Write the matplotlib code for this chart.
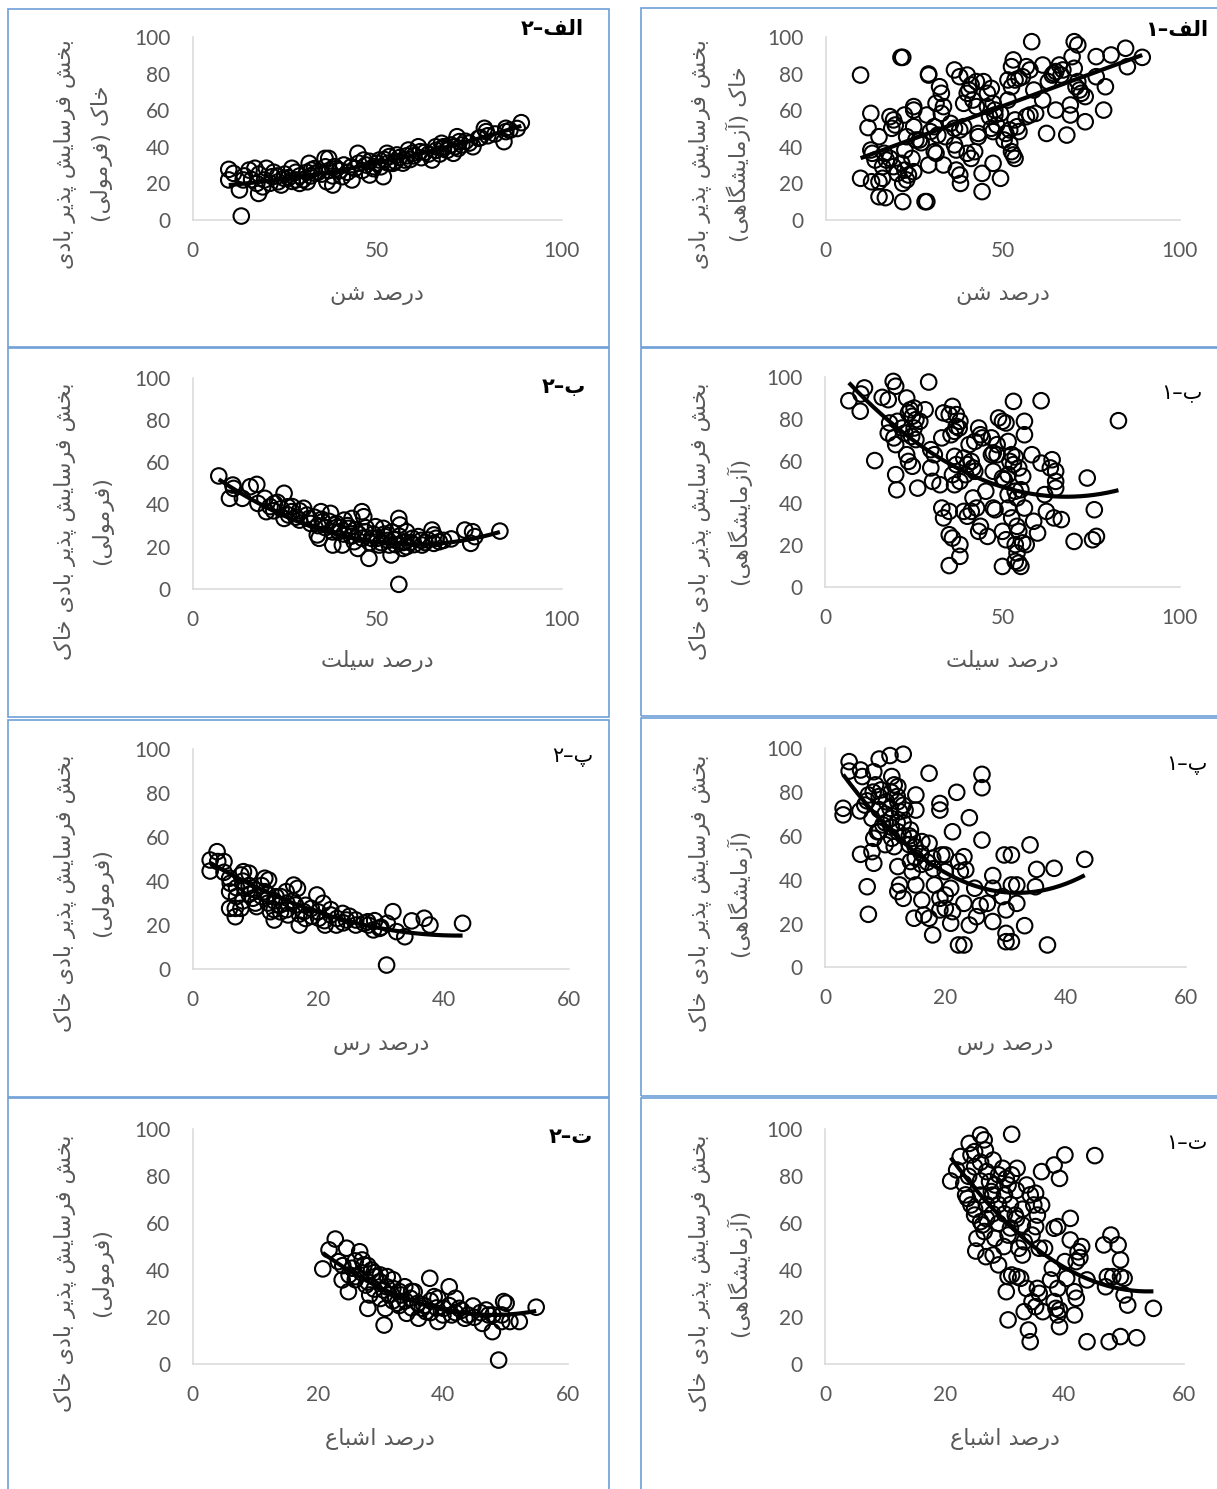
import numpy as np
import matplotlib
matplotlib.use("Agg")
import matplotlib.pyplot as plt
from matplotlib.patches import Rectangle

# ---------------- data ----------------
# right column: laboratory values, left column: formula values
sand_lab = [(9.9,79.3),(21.3,89.0),(21.8,89.0),(29.1,79.9),(29.1,79.3),(28.6,9.9),(28.1,9.9),(21.8,9.9),(9.9,22.7),
    (12.8,58.3),(12.0,50.5),(15.1,45.5),(12.8,38.2),(13.2,36.4),(13.0,20.8),(15.1,20.8),(16.1,22.7),(15.1,12.6),
    (16.9,12.1),(14.0,32.7),(16.6,36.4),(18.2,33.6),(19.2,29.1),(18.2,56.5),(19.2,54.7),(19.7,51.9),(18.7,50.1),
    (22.3,57.4),(22.9,45.5),(21.5,30.9),(22.4,27.2),(21.8,19.9),(22.9,21.8),(23.4,24.5),(24.4,33.6),(24.9,26.3),
    (24.9,62.0),(24.9,60.1),(24.9,51.0),(26.5,43.7),(25.5,43.7),(27.0,42.2),(28.6,57.4),(29.6,48.3),(30.7,51.0),
    (31.7,46.4),(32.2,72.9),(32.7,69.3),(31.2,63.8),(33.3,62.0),(32.7,58.3),(30.7,37.3),(31.2,36.4),(29.1,30.0),
    (33.3,30.0),(33.8,45.5),(35.3,52.8),(36.4,82.1),(37.9,78.4),(40.0,79.3),(39.0,63.8),(40.0,69.3),(40.5,71.1),
    (41.1,73.9),(41.6,65.6),(42.6,62.0),(42.6,75.7),(44.6,75.7),(46.8,72.0),(45.7,69.3),(47.3,63.8),(47.8,60.1),
    (47.8,57.4),(46.3,56.5),(36.4,50.1),(37.9,49.2),(39.0,51.0),(36.4,41.0),(36.9,38.2),(36.9,27.2),(37.9,24.5),
    (38.1,19.9),(40.0,36.4),(41.1,33.6),(42.1,37.3),(43.1,47.3),(43.1,45.5),(44.2,25.4),(44.2,15.4),(46.8,50.1),
    (47.3,48.3),(48.3,51.9),(49.4,58.3),(50.4,43.7),(50.9,47.3),(47.3,30.9),(49.4,22.7),(51.5,65.6),(52.5,72.9),
    (51.5,76.6),(52.5,83.9),(53.0,87.6),(53.5,76.6),(54.6,77.5),(55.6,78.4),(56.7,83.9),(57.7,82.1),(58.2,97.6),
    (53.5,54.7),(54.1,51.0),(52.0,49.2),(54.6,48.3),(52.5,37.3),(53.0,35.5),(53.5,33.6),(52.0,41.9),(56.7,56.5),
    (57.7,57.4),(59.3,58.3),(58.8,71.1),(61.3,65.6),(61.3,84.8),(62.4,47.3),(65.0,60.1),(65.0,81.2),(66.0,84.8),
    (66.5,79.3),(67.0,82.1),(68.1,46.4),(69.1,57.4),(69.1,62.9),(69.6,89.4),(70.2,97.6),(71.2,95.8),(70.7,72.9),
    (71.2,75.7),(71.7,71.1),(72.2,69.3),(73.3,67.5),(73.3,53.7),(70.2,83.0),(76.4,78.4),(76.4,89.4),(79.0,72.9),
    (78.5,60.1),(80.6,90.3),(84.7,94.0),(85.2,83.9),(89.4,89.0),(64.0,79.3),(64.4,80.2),(62.9,75.7),(45.7,62.0),
    (16.1,29.1),(17.2,32.7),(20.3,25.4),(22.4,38.2)]

sand_eq = [(13.2,2.0),(9.8,27.6),(9.8,21.8),(11.1,25.4),(12.7,16.3),(13.7,21.8),(15.3,27.2),(16.9,28.2),(17.9,14.4),
    (17.4,19.9),(20.0,28.2),(19.5,21.8),(21.6,23.6),(23.2,20.8),(24.8,22.7),(26.9,28.2),(28.0,21.8),(29.0,19.9),
    (31.1,20.8),(31.6,30.9),(32.2,27.2),(33.2,25.4),(35.9,33.6),(36.9,33.6),(36.4,20.8),(38.0,19.0),(38.5,29.1),
    (40.6,23.6),(43.2,21.8),(44.8,36.4),(46.4,32.7),(48.0,24.5),(49.1,29.1),(50.6,32.7),(51.7,23.6),(52.7,36.4),
    (53.3,34.6),(54.3,30.9),(55.4,35.5),(57.5,32.7),(58.5,38.2),(59.6,36.4),(61.2,40.0),(61.7,37.3),(64.9,32.7),
    (65.9,40.0),(67.5,41.9),(68.0,39.1),(70.7,36.4),(71.2,40.0),(71.7,45.5),(72.3,42.8),(76.0,40.0),(77.5,44.6),
    (79.1,50.1),(79.6,48.3),(84.4,42.8),(84.9,50.1),(84.9,48.3),(89.1,53.2),
    (14,24),(16,22),(18,25),(19,18),(21,20),(22,26),(23,24),(24,19),(25,25),(26,23),(27,21),(28,26),(29,24),(30,22),
    (31,26),(32,24),(33,28),(34,26),(35,25),(36,29),(37,27),(38,24),(39,28),(40,27),(41,30),(42,26),(43,29),(44,28),
    (45,31),(46,27),(47,30),(48,32),(49,28),(50,31),(51,29),(52,33),(53,31),(55,32),(56,34),(57,31),(58,35),(59,33),
    (60,35),(62,34),(63,37),(64,36),(66,38),(67,36),(68,40),(69,38),(70,41),(72,39),(73,41),(74,43),(75,42),(78,45),
    (80,46),(82,47),(86,49),(88,50)]

silt_lab = [(6.7,88.7),(9.9,83.7),(10.1,91.9),(11.1,94.8),(14.0,60.2),(16.1,90.3),(17.8,89.2),(19.2,97.9),(19.9,95.6),
    (18.2,78.1),(17.8,73.3),(19.4,71.0),(19.9,67.8),(20.4,78.9),(19.9,53.5),(20.2,46.3),(21.7,75.7),(22.5,73.3),
    (23.0,90.0),(23.5,82.9),(24.0,84.4),(24.6,81.3),(25.1,85.2),(25.6,79.7),(26.7,78.9),(25.1,75.7),(24.4,71.7),
    (25.6,70.2),(23.0,63.0),(23.5,59.8),(24.6,57.5),(26.1,47.1),(28.2,84.4),(29.2,97.6),(29.8,65.4),(30.8,63.0),
    (29.8,56.7),(30.3,50.3),(32.4,48.7),(32.9,71.0),(33.4,82.9),(35.0,82.1),(35.9,86.0),(37.0,82.1),(38.0,78.9),
    (37.0,76.5),(36.5,74.1),(35.5,72.5),(37.8,75.7),(32.9,37.6),(33.4,32.9),(35.0,36.0),(35.0,24.9),(35.9,23.3),
    (38.0,20.2),(38.0,14.6),(35.0,10.2),(36.5,62.2),(37.0,58.3),(35.9,53.5),(36.5,48.7),(38.0,50.3),(39.1,61.4),
    (40.1,58.3),(39.6,53.5),(41.2,59.8),(41.7,56.7),(42.2,55.1),(40.6,67.8),(42.2,69.3),(43.3,75.7),(43.8,72.5),
    (44.3,71.0),(39.1,36.0),(40.1,33.7),(41.2,36.0),(42.7,37.6),(41.7,42.4),(43.8,28.9),(43.3,26.5),(45.8,24.1),
    (45.3,45.6),(46.9,63.0),(47.4,63.8),(48.5,63.0),(46.9,71.0),(48.5,67.8),(47.4,55.1),(47.4,37.6),(47.9,36.8),
    (48.9,80.5),(50.0,78.9),(51.0,78.1),(51.6,69.3),(50.0,51.9),(50.5,51.1),(51.6,53.5),(51.6,44.0),(50.0,26.5),
    (50.0,9.8),(51.0,22.5),(51.6,37.6),(53.1,88.4),(52.6,63.0),(53.6,61.9),(52.1,59.8),(53.1,58.3),(54.6,56.7),
    (55.7,52.7),(53.6,45.6),(54.1,42.4),(55.2,46.3),(52.6,32.9),(54.1,28.9),(54.6,26.5),(53.6,20.2),(54.1,16.2),
    (53.6,12.2),(54.6,11.4),(55.2,9.8),(55.7,21.0),(56.7,20.2),(56.2,37.6),(56.2,78.9),(56.2,72.5),(58.3,63.0),
    (60.9,88.7),(60.9,59.0),(61.9,44.0),(62.4,36.0),(59.9,25.7),(58.8,31.3),(63.5,56.7),(64.0,60.6),(65.0,55.1),
    (65.0,50.3),(65.0,47.1),(64.5,32.9),(66.6,32.1),(70.2,21.7),(73.9,51.9),(75.9,36.8),(75.4,22.5),(76.5,24.1),
    (82.7,79.2)]

silt_eq = [(7.1,53.5),(10.0,42.9),(10.9,49.2),(11.1,47.6),(13.5,42.9),(15.6,48.4),(17.4,49.5),(17.7,40.5),(19.6,42.9),
    (20.0,36.6),(22.2,40.5),(24.8,45.3),(24.8,33.4),(25.8,38.9),(26.9,36.6),(30.1,38.2),(29.0,32.6),(31.6,33.4),
    (33.8,25.6),(34.3,24.0),(34.8,36.6),(35.3,31.9),(37.4,35.8),(38.0,20.8),(38.5,30.3),(39.6,27.1),(40.6,20.8),
    (41.1,32.6),(42.2,28.7),(43.2,33.4),(43.8,22.4),(44.8,19.2),(45.9,36.6),(46.4,34.2),(46.8,27.1),(47.8,14.5),
    (48.5,24.0),(49.6,29.5),(50.6,20.8),(51.7,28.7),(52.2,24.8),(53.3,20.8),(53.8,16.1),(54.9,23.2),(55.9,33.4),
    (56.2,30.3),(55.9,2.2),(57.0,19.2),(58.0,27.1),(57.5,22.4),(59.6,24.0),(61.2,24.8),(62.2,20.8),(63.8,23.2),
    (64.9,27.9),(65.4,25.6),(65.4,21.6),(66.9,22.4),(70.1,23.7),(73.8,27.9),(75.4,21.6),(75.9,27.1),(76.5,24.8),
    (83.3,27.4),
    (21,39),(22,37),(23,41),(24,38),(26,35),(27,39),(28,34),(29,37),(31,35),(32,31),(33,34),(34,30),(35,33),(36,29),
    (37,32),(38,27),(39,31),(40,29),(41,26),(42,30),(43,25),(44,28),(45,26),(46,24),(47,29),(48,22),(49,26),(50,24),
    (51,22),(52,26),(53,23),(54,27),(55,21),(56,25),(57,22),(58,20),(59,22),(60,21),(62,23),(63,22),(66,24),(68,23)]

clay_lab = [(3.0,72.6),(3.0,69.6),(4.0,93.9),(4.0,89.6),(5.9,90.1),(6.2,87.1),(5.8,71.4),(5.9,51.6),(7.0,36.8),
    (7.2,24.2),(7.8,52.8),(8.1,47.5),(8.1,89.3),(9.0,95.1),(10.8,96.7),(13.0,97.3),(8.4,83.3),(9.3,81.0),(7.2,78.7),
    (7.8,68.0),(6.6,74.1),(8.7,61.9),(8.1,58.9),(9.6,65.0),(10.2,75.6),(11.1,87.1),(11.5,83.3),(12.1,82.5),(10.8,72.6),
    (12.1,75.6),(12.4,71.1),(13.3,71.8),(11.1,58.9),(11.5,55.1),(12.1,61.9),(12.1,46.0),(12.4,37.6),(12.1,34.6),
    (13.0,31.5),(14.2,62.7),(14.5,58.9),(14.2,48.3),(14.5,43.7),(15.1,78.7),(15.1,71.8),(15.1,37.6),(14.8,22.4),
    (16.1,57.4),(16.4,23.9),(16.1,30.7),(17.3,56.6),(17.3,88.6),(17.3,22.4),(17.9,49.8),(18.2,37.6),(17.9,14.8),
    (19.1,74.8),(19.1,71.8),(19.1,31.5),(19.4,51.3),(20.0,51.3),(20.0,43.7),(20.0,33.0),(19.1,26.2),(20.0,26.9),
    (21.2,25.4),(20.9,20.1),(20.9,36.1),(21.2,61.9),(21.9,79.9),(22.2,10.2),(23.1,10.2),(22.2,48.3),(22.5,43.7),
    (23.1,50.5),(23.4,44.5),(23.1,29.2),(24.0,19.3),(24.0,68.3),(24.9,36.1),(25.2,23.1),(25.8,28.2),(26.1,88.1),
    (26.1,82.0),(26.1,58.1),(27.0,29.2),(27.9,41.9),(27.9,36.1),(27.9,20.9),(29.5,32.3),(29.8,51.3),(31.0,51.3),
    (30.1,26.2),(30.1,15.5),(30.1,11.7),(31.0,11.7),(31.0,37.6),(31.9,37.6),(31.9,29.2),(33.2,19.0),(34.1,55.9),
    (35.0,36.8),(35.2,44.7),(37.0,10.2),(38.1,45.2),(43.2,49.3),
    (7,76),(8,80),(9,72),(9,78),(10,70),(10,66),(11,68),(11,64),(12,66),(12,78),(13,60),(13,66),(14,56),(14,60),
    (15,55),(15,50),(16,52),(16,47),(17,48),(18,45),(13,74),(11,80),(9,62),(10,56)]

clay_eq = [(2.8,49.6),(2.8,44.6),(3.9,53.4),(4.0,48.9),(5.0,48.9),(5.9,41.3),(5.9,35.2),(5.9,27.6),(6.8,23.8),
    (6.8,27.6),(7.7,42.8),(8.1,44.3),(9.0,43.6),(7.7,27.6),(8.4,36.7),(9.6,32.2),(10.2,28.4),(11.5,41.3),(12.1,40.5),
    (11.5,35.2),(12.4,26.1),(13.0,22.3),(13.3,32.9),(13.9,29.1),(14.9,35.2),(15.2,24.6),(16.1,38.2),(16.7,36.7),
    (16.4,29.1),(17.0,20.0),(17.7,26.1),(18.9,27.6),(19.8,33.7),(20.8,29.9),(20.1,23.1),(21.1,20.0),(22.0,24.6),
    (22.9,20.0),(23.9,25.3),(24.5,22.3),(26.0,22.3),(27.3,20.8),(27.9,21.5),(28.8,17.8),(29.8,18.5),(31.0,20.8),
    (30.9,1.8),(31.9,26.1),(32.5,17.0),(33.8,14.7),(34.9,21.9),(36.9,23.1),(37.8,20.0),(43.0,20.8),
    (5,44),(6,39),(7,37),(7,33),(8,40),(8,31),(9,38),(9,34),(10,36),(10,30),(11,33),(11,38),(12,30),(12,34),(13,27),
    (13,31),(14,33),(14,26),(15,30),(15,27),(16,31),(17,25),(18,23),(18,29),(19,24),(20,26),(21,22),(22,27),(23,23),
    (24,21),(25,24),(26,20),(28,20),(29,22),(30,19)]

sat_lab = [(21.0,78.0),(22.0,82.7),(22.6,88.4),(24.1,94.0),(26.0,97.6),(26.6,95.5),(24.4,89.1),(25.0,90.5),(26.8,91.2),
    (28.1,86.9),(23.2,76.9),(23.5,72.1),(23.8,70.6),(24.4,67.8),(25.0,63.5),(25.4,53.6),(25.2,48.2),(26.0,60.7),
    (26.3,59.3),(26.6,56.5),(26.9,45.8),(27.5,77.7),(27.8,73.5),(28.4,76.3),(29.0,80.6),(29.7,83.4),(30.3,79.1),
    (30.6,76.3),(31.2,80.6),(32.1,83.4),(31.2,97.9),(28.1,46.5),(29.0,42.3),(28.4,53.6),(29.9,50.1),(30.6,55.0),
    (30.6,37.3),(30.3,30.9),(30.6,18.9),(31.2,38.0),(32.1,37.3),(32.7,36.6),(32.4,49.4),(31.8,63.5),(33.0,59.3),
    (33.3,52.2),(33.0,46.5),(33.7,76.3),(34.3,72.1),(34.9,67.8),(35.2,72.8),(35.5,63.5),(36.2,67.8),(35.2,58.6),
    (34.6,55.0),(35.8,49.4),(36.2,82.0),(36.7,49.4),(33.7,32.3),(34.0,14.6),(34.3,9.6),(33.3,22.4),(34.6,26.7),
    (35.2,24.5),(35.5,32.3),(35.8,30.2),(36.4,22.4),(37.7,35.9),(38.0,40.9),(38.3,57.9),(38.9,58.6),(38.3,84.8),
    (39.2,79.1),(40.1,89.1),(38.3,26.7),(38.6,23.8),(38.9,21.0),(39.2,16.0),(39.2,23.1),(38.9,32.3),(40.4,36.6),
    (40.1,43.7),(41.0,52.9),(41.0,62.1),(41.7,30.9),(42.0,28.1),(41.7,21.0),(42.0,43.7),(42.3,47.9),(42.9,50.1),
    (42.6,45.4),(43.8,9.6),(43.8,35.9),(45.1,88.8),(46.6,50.8),(47.8,55.0),(49.0,50.8),(49.4,44.4),(46.9,33.0),
    (47.2,37.3),(48.1,37.3),(49.4,37.3),(50.0,36.6),(47.5,9.6),(49.4,11.8),(50.0,29.5),(50.6,25.2),(52.1,11.3),
    (54.9,23.8),
    (24,80),(25,84),(26,78),(26,72),(27,82),(27,68),(28,64),(28,72),(29,60),(29,68),(30,64),(30,72),(31,58),(31,68),
    (32,62),(32,74),(33,66),(27,62),(25,66),(26,86)]

sat_eq = [(20.8,40.6),(21.8,48.7),(22.8,53.3),(23.3,43.7),(23.9,35.9),(24.6,49.4),(24.9,30.9),(25.5,40.9),(26.1,37.3),
    (26.7,47.9),(27.1,44.4),(27.4,42.3),(27.7,33.7),(28.0,23.8),(28.3,29.5),(28.6,40.1),(29.2,37.3),(29.9,35.2),
    (30.5,31.6),(30.6,16.7),(31.1,37.3),(30.8,23.8),(31.4,29.5),(32.0,32.3),(32.7,26.0),(33.3,29.5),(33.9,33.0),
    (34.2,21.7),(34.8,28.1),(35.4,30.9),(36.1,19.6),(36.7,23.8),(37.3,22.4),(37.9,36.6),(38.6,28.8),(39.2,28.1),
    (39.2,18.2),(40.1,23.8),(41.0,33.0),(41.4,21.0),(42.0,28.1),(42.6,23.8),(43.5,19.6),(44.8,24.8),(46.3,17.4),
    (46.9,23.1),(47.3,21.0),(47.9,13.9),(48.9,1.8),(49.4,21.0),(49.7,26.7),(50.1,26.0),(49.4,18.2),(50.7,18.2),
    (52.2,18.2),(54.9,24.3),
    (24,42),(25,38),(26,44),(26,36),(27,39),(28,35),(28,42),(29,32),(29,39),(30,28),(30,38),(31,33),(32,27),(32,36),
    (33,31),(33,25),(34,27),(35,24),(35,31),(36,26),(37,25),(38,22),(38,27),(39,24),(40,21),(41,25),(42,22),(43,23),
    (44,21),(45,20),(46,22),(48,21)]

# trend line coefficients (highest power first)
sand_lab_fit = [0.711, 26.7]
sand_eq_fit = [0.002824, 0.1306, 17.41]
silt_lab_fit = [0.01444, -1.964, 109.77]
silt_eq_fit = [0.01104, -1.3248, 60.74]
clay_lab_fit = [0.0642, -4.109, 99.74]
clay_eq_fit = [0.02097, -1.7846, 53.17]
sat_lab_fit = [0.0523, -5.648, 183.5]
sat_eq_fit = [0.0357, -3.4272, 103.25]

x_titles = ["درصد شن", "درصد سیلت", "درصد رس", "درصد اشباع"]
x_max = [100, 100, 60, 60]
x_ticks = [[0, 50, 100], [0, 50, 100], [0, 20, 40, 60], [0, 20, 40, 60]]
y_ticks = [0, 20, 40, 60, 80, 100]
tags_lab = ["الف–۱", "ب–۱", "پ–۱", "ت–۱"]
tags_eq = ["الف–۲", "ب–۲", "پ–۲", "ت–۲"]
ylab_main = "بخش فرسایش پذیر بادی"
ylab_lab = "(آزمایشگاهی)"
ylab_eq = "(فرمولی)"

# ---------------- simple persian shaping ----------------
FORMS = {
    'ا': '\ufe8d\ufe8e', 'آ': '\ufe81\ufe82', 'د': '\ufea9\ufeaa', 'ذ': '\ufeab\ufeac',
    'ر': '\ufead\ufeae', 'ز': '\ufeaf\ufeb0', 'و': '\ufeed\ufeee',
    'ب': '\ufe8f\ufe90\ufe91\ufe92', 'پ': '\ufb56\ufb57\ufb58\ufb59', 'ت': '\ufe95\ufe96\ufe97\ufe98',
    'خ': '\ufea5\ufea6\ufea7\ufea8', 'س': '\ufeb1\ufeb2\ufeb3\ufeb4', 'ش': '\ufeb5\ufeb6\ufeb7\ufeb8',
    'ص': '\ufeb9\ufeba\ufebb\ufebc', 'ع': '\ufec9\ufeca\ufecb\ufecc', 'ف': '\ufed1\ufed2\ufed3\ufed4',
    'ک': '\ufb8e\ufb8f\ufb90\ufb91', 'گ': '\ufb92\ufb93\ufb94\ufb95', 'ل': '\ufedd\ufede\ufedf\ufee0',
    'م': '\ufee1\ufee2\ufee3\ufee4', 'ن': '\ufee5\ufee6\ufee7\ufee8', 'ه': '\ufee9\ufeea\ufeeb\ufeec',
    'ی': '\ufbfc\ufbfd\ufbfe\ufbff',
}


def fa(s):
    out = []
    for i, ch in enumerate(s):
        f = FORMS.get(ch)
        if f is None:
            out.append(ch)
            continue
        prev = s[i - 1] if i > 0 else ''
        nxt = s[i + 1] if i + 1 < len(s) else ''
        a = prev in FORMS and len(FORMS[prev]) == 4
        b = len(f) == 4 and nxt in FORMS
        if a and b:
            out.append(f[3])
        elif a:
            out.append(f[1])
        elif b:
            out.append(f[2])
        else:
            out.append(f[0])
    vis = ''.join(reversed(out))
    return vis.translate(str.maketrans('()', ')('))


# ---------------- layout (pixels) ----------------
W, H = 1217, 1489
fig = plt.figure(figsize=(W / 100, H / 100), dpi=100)
FA = ['DejaVu Sans']
NUM = ['Lato', 'DejaVu Sans']
GREY = '#595959'
BLUE = '#6f9fd8'


def box(x0, x1, yt, yb):
    return [x0 / W, 1 - yb / H, (x1 - x0) / W, (yb - yt) / H]


for (x0, x1, yt, yb) in [(8, 609, 9, 347), (8, 609, 348, 717), (8, 609, 720, 1097), (8, 609, 1098, 1495),
                         (641, 1225, 8, 347), (641, 1225, 348, 716), (641, 1225, 718, 1096), (641, 1225, 1098, 1495)]:
    fig.patches.append(Rectangle((x0 / W, 1 - yb / H), (x1 - x0) / W, (yb - yt) / H, transform=fig.transFigure,
                                 fill=False, edgecolor=BLUE, linewidth=1.2))

panels = [
    # data, fit, row, column, axes box (px), bold tag
    (sand_lab, sand_lab_fit, 0, 'lab', (825.5, 1179.8, 37.3, 219.7), True),
    (sand_eq, sand_eq_fit, 0, 'eq', (192.6, 561.5, 37.3, 219.7), True),
    (silt_lab, silt_lab_fit, 1, 'lab', (825.1, 1179.8, 377, 587), False),
    (silt_eq, silt_eq_fit, 1, 'eq', (192.6, 561.5, 377.7, 589), True),
    (clay_lab, clay_lab_fit, 2, 'lab', (825.1, 1185.7, 748.3, 967.3), False),
    (clay_eq, clay_eq_fit, 2, 'eq', (192.6, 569.3, 749.3, 969), False),
    (sat_lab, sat_lab_fit, 3, 'lab', (825.1, 1183.9, 1129.3, 1364.3), False),
    (sat_eq, sat_eq_fit, 3, 'eq', (192.6, 568.1, 1129.3, 1364.3), True),
]

tag_pos = {('lab', 0): (1208, 30), ('eq', 0): (584, 29), ('lab', 1): (1203, 393), ('eq', 1): (586, 387),
           ('lab', 2): (1208, 765), ('eq', 2): (593, 757), ('lab', 3): (1208, 1143), ('eq', 3): (593, 1137)}
ylab_x = {'lab': (700, 738), 'eq': (65, 102)}
ylab_y = [154, 521, 893, 1273]
xlab_y = [295, 661, 1045, 1439]

for data, fit, row, kind, (x0, x1, yt, yb), bold in panels:
    ax = fig.add_axes(box(x0, x1, yt, yb))
    xs, ys = zip(*data)
    ax.scatter(xs, ys, s=125, facecolors='none', edgecolors='black', linewidths=1.5, clip_on=False, zorder=3)
    xx = np.linspace(min(xs), max(xs), 200)
    ax.plot(xx, np.polyval(fit, xx), color='black', lw=3, solid_capstyle='butt', zorder=4)
    ax.set_xlim(0, x_max[row])
    ax.set_ylim(0, 100)
    ax.set_xticks(x_ticks[row])
    ax.set_yticks(y_ticks)
    for s in ['top', 'right']:
        ax.spines[s].set_visible(False)
    for s in ['left', 'bottom']:
        ax.spines[s].set_color('#d9d9d9')
        ax.spines[s].set_linewidth(1.1)
    ax.tick_params(length=0, labelsize=15, labelcolor=GREY)
    ax.tick_params(axis='x', pad=15)
    ax.tick_params(axis='y', pad=16)
    for lab in ax.get_xticklabels() + ax.get_yticklabels():
        lab.set_family(NUM)
    ax.patch.set_alpha(0)

    xc = (x0 + x1) / 2
    fig.text(xc / W, 1 - xlab_y[row] / H, fa(x_titles[row]), ha='center', va='center',
             fontsize=16, color=GREY, family=FA)

    sub = ylab_lab if kind == 'lab' else ylab_eq
    if row == 0:
        l1, l2 = ylab_main, 'خاک ' + sub
    else:
        l1, l2 = ylab_main + ' خاک', sub
    lx1, lx2 = ylab_x[kind]
    fig.text(lx1 / W, 1 - ylab_y[row] / H, fa(l1), rotation=90, ha='center', va='center',
             fontsize=16, color=GREY, family=FA)
    fig.text(lx2 / W, 1 - ylab_y[row] / H, fa(l2), rotation=90, ha='center', va='center',
             fontsize=16, color=GREY, family=FA)

    tag = tags_lab[row] if kind == 'lab' else tags_eq[row]
    tx, ty = tag_pos[(kind, row)]
    fig.text(tx / W, 1 - ty / H, fa(tag), ha='right', va='center', fontsize=15,
             fontweight='bold' if bold else 'normal', color='black', family=FA)

fig.savefig('out.png', dpi=100)
